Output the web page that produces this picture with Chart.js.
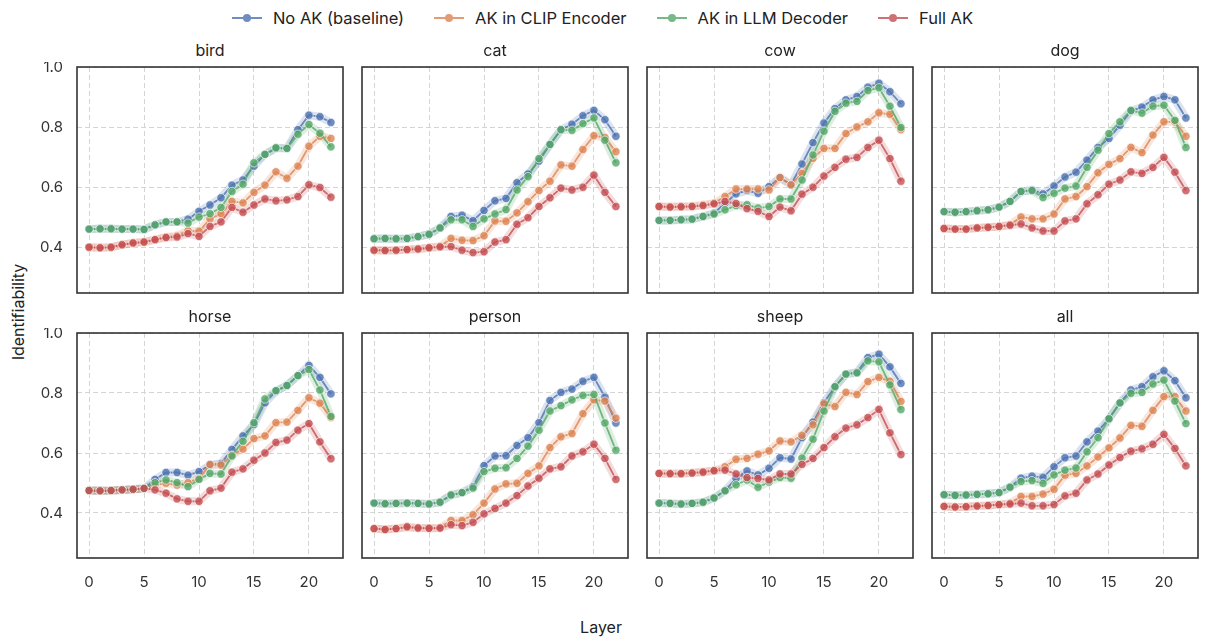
<!DOCTYPE html>
<html>
<head>
<meta charset="utf-8">
<script src="https://cdn.jsdelivr.net/npm/chart.js@4.4.1/dist/chart.umd.min.js"></script>
<style>
  body { margin: 0; background: #fff; font-family: Inter, "Open Sans", sans-serif; color: #222; }
  #wrap { position: relative; width: 1205px; height: 638px; overflow: hidden; }
  canvas { position: absolute; }
  .title { position: absolute; width: 266px; text-align: center; font-size: 16px; line-height: 20px; }
  #legend { position: absolute; top: 8px; left: 0; width: 1205px; display: flex; justify-content: center; gap: 30px; font-size: 16.5px; line-height: 20px; }
  .item { display: flex; align-items: center; gap: 11px; }
  .mk { position: relative; width: 30px; height: 2px; opacity: 0.8; }
  .mk span { position: absolute; left: 11px; top: -3px; width: 8px; height: 8px; border-radius: 50%; }
  #ylab { position: absolute; left: 18px; top: 312px; transform: translate(-50%, -50%) rotate(-90deg); font-size: 16px; white-space: nowrap; }
  #xlab { position: absolute; left: 601px; top: 627px; transform: translate(-50%, -50%); font-size: 16px; }
</style>
</head>
<body>
<div id="wrap">
  <div id="legend"></div>
  <div id="ylab">Identifiability</div>
  <div id="xlab">Layer</div>
</div>
<script>
const layers = [0, 1, 2, 3, 4, 5, 6, 7, 8, 9, 10, 11, 12, 13, 14, 15, 16, 17, 18, 19, 20, 21, 22];
const panels = ['bird', 'cat', 'cow', 'dog', 'horse', 'person', 'sheep', 'all'];
const seriesNames = ['No AK (baseline)', 'AK in CLIP Encoder', 'AK in LLM Decoder', 'Full AK'];
const seriesColors = ['#4C72B0', '#DD8452', '#55A868', '#C44E52'];
const xTicks = [0, 5, 10, 15, 20];
const yTicks = [0.4, 0.6, 0.8, 1.0];

const noAK_bird = [0.462,0.463,0.463,0.462,0.462,0.461,0.476,0.486,0.486,0.495,0.521,0.542,0.566,0.608,0.625,0.671,0.710,0.730,0.730,0.792,0.840,0.835,0.816];
const clip_bird = [0.402,0.400,0.402,0.410,0.416,0.419,0.427,0.436,0.440,0.457,0.455,0.496,0.513,0.554,0.549,0.584,0.608,0.652,0.631,0.671,0.737,0.770,0.763];
const llm_bird  = [0.462,0.463,0.463,0.462,0.462,0.461,0.476,0.486,0.486,0.482,0.502,0.513,0.534,0.587,0.611,0.682,0.710,0.732,0.730,0.777,0.809,0.780,0.735];
const full_bird = [0.402,0.400,0.402,0.410,0.416,0.419,0.427,0.434,0.436,0.447,0.438,0.471,0.486,0.534,0.518,0.542,0.562,0.556,0.559,0.570,0.609,0.600,0.568];

const noAK_cat = [0.430,0.431,0.430,0.431,0.437,0.445,0.466,0.504,0.508,0.490,0.524,0.556,0.564,0.616,0.645,0.688,0.743,0.792,0.810,0.838,0.856,0.825,0.770];
const clip_cat = [0.392,0.391,0.392,0.394,0.396,0.400,0.405,0.431,0.425,0.424,0.440,0.489,0.488,0.516,0.553,0.590,0.621,0.675,0.671,0.726,0.772,0.766,0.719];
const llm_cat  = [0.430,0.431,0.430,0.431,0.437,0.445,0.466,0.493,0.493,0.471,0.496,0.512,0.527,0.592,0.636,0.696,0.743,0.792,0.790,0.812,0.831,0.757,0.682];
const full_cat = [0.392,0.391,0.392,0.394,0.396,0.400,0.403,0.404,0.392,0.384,0.387,0.419,0.427,0.478,0.500,0.537,0.566,0.598,0.592,0.601,0.641,0.584,0.537];

const noAK_cow = [0.491,0.491,0.493,0.495,0.504,0.515,0.548,0.579,0.590,0.581,0.603,0.633,0.609,0.678,0.749,0.814,0.862,0.891,0.902,0.933,0.946,0.918,0.878];
const clip_cow = [0.537,0.537,0.537,0.539,0.543,0.548,0.570,0.595,0.595,0.595,0.592,0.633,0.609,0.647,0.697,0.730,0.730,0.779,0.801,0.818,0.848,0.843,0.792];
const llm_cow  = [0.491,0.491,0.493,0.495,0.504,0.512,0.526,0.540,0.543,0.532,0.537,0.562,0.562,0.625,0.708,0.787,0.853,0.880,0.886,0.922,0.931,0.870,0.799];
const full_cow = [0.537,0.535,0.536,0.537,0.540,0.546,0.554,0.547,0.530,0.521,0.504,0.535,0.523,0.578,0.601,0.638,0.667,0.694,0.700,0.733,0.757,0.696,0.621];

const noAK_dog = [0.520,0.518,0.520,0.523,0.526,0.535,0.554,0.587,0.592,0.579,0.605,0.635,0.651,0.691,0.733,0.763,0.807,0.854,0.867,0.891,0.902,0.891,0.831];
const clip_dog = [0.464,0.462,0.462,0.466,0.468,0.471,0.477,0.502,0.496,0.496,0.512,0.562,0.570,0.603,0.649,0.677,0.696,0.733,0.716,0.774,0.818,0.818,0.770];
const llm_dog  = [0.520,0.518,0.520,0.523,0.526,0.535,0.554,0.587,0.590,0.567,0.581,0.598,0.605,0.667,0.724,0.779,0.818,0.856,0.847,0.870,0.873,0.823,0.733];
const full_dog = [0.464,0.462,0.462,0.466,0.468,0.471,0.475,0.479,0.466,0.456,0.456,0.489,0.496,0.546,0.576,0.611,0.625,0.652,0.647,0.667,0.700,0.651,0.590];

const noAK_horse = [0.475,0.474,0.475,0.477,0.479,0.482,0.512,0.535,0.535,0.526,0.538,0.560,0.565,0.612,0.657,0.695,0.767,0.806,0.825,0.858,0.892,0.852,0.797];
const clip_horse = [0.475,0.474,0.475,0.477,0.479,0.482,0.494,0.499,0.493,0.501,0.515,0.562,0.560,0.593,0.613,0.648,0.657,0.701,0.703,0.742,0.784,0.766,0.718];
const llm_horse  = [0.475,0.474,0.475,0.477,0.479,0.482,0.501,0.510,0.501,0.488,0.512,0.532,0.530,0.590,0.639,0.701,0.780,0.808,0.825,0.858,0.878,0.810,0.722];
const full_horse = [0.475,0.474,0.475,0.477,0.479,0.482,0.477,0.466,0.447,0.439,0.439,0.474,0.483,0.536,0.547,0.576,0.600,0.635,0.643,0.676,0.698,0.637,0.581];

const noAK_person = [0.433,0.431,0.432,0.433,0.432,0.430,0.436,0.460,0.468,0.488,0.558,0.590,0.591,0.625,0.651,0.701,0.775,0.802,0.813,0.839,0.852,0.786,0.700];
const clip_person = [0.348,0.345,0.348,0.352,0.350,0.349,0.350,0.375,0.375,0.394,0.433,0.480,0.497,0.499,0.532,0.557,0.618,0.654,0.665,0.731,0.777,0.773,0.716];
const llm_person  = [0.433,0.431,0.432,0.433,0.432,0.430,0.436,0.460,0.468,0.483,0.538,0.549,0.551,0.582,0.623,0.676,0.740,0.758,0.777,0.792,0.795,0.700,0.609];
const full_person = [0.348,0.345,0.348,0.354,0.350,0.349,0.350,0.361,0.358,0.369,0.397,0.415,0.433,0.458,0.490,0.516,0.547,0.554,0.590,0.604,0.629,0.582,0.512];

const noAK_sheep = [0.433,0.432,0.430,0.432,0.436,0.450,0.474,0.516,0.540,0.527,0.549,0.584,0.580,0.651,0.703,0.768,0.821,0.863,0.869,0.918,0.929,0.887,0.832];
const clip_sheep = [0.532,0.532,0.532,0.534,0.538,0.541,0.554,0.579,0.582,0.596,0.607,0.640,0.637,0.659,0.694,0.764,0.755,0.802,0.795,0.838,0.852,0.839,0.772];
const llm_sheep  = [0.433,0.432,0.430,0.432,0.436,0.450,0.474,0.494,0.510,0.486,0.503,0.518,0.516,0.583,0.646,0.740,0.821,0.863,0.867,0.907,0.904,0.827,0.745];
const full_sheep = [0.532,0.531,0.531,0.533,0.536,0.541,0.543,0.530,0.518,0.515,0.510,0.530,0.530,0.562,0.582,0.618,0.654,0.683,0.694,0.718,0.745,0.667,0.595];

const noAK_all = [0.461,0.459,0.460,0.462,0.464,0.468,0.486,0.516,0.523,0.519,0.554,0.584,0.590,0.637,0.673,0.714,0.767,0.810,0.821,0.854,0.874,0.841,0.784];
const clip_all = [0.422,0.420,0.421,0.424,0.425,0.428,0.433,0.455,0.455,0.463,0.479,0.526,0.532,0.557,0.587,0.617,0.650,0.692,0.689,0.742,0.788,0.788,0.740];
const llm_all  = [0.461,0.459,0.460,0.462,0.464,0.468,0.486,0.505,0.508,0.499,0.527,0.543,0.550,0.604,0.651,0.714,0.767,0.799,0.802,0.830,0.843,0.773,0.698];
const full_all = [0.422,0.420,0.421,0.423,0.425,0.428,0.430,0.433,0.424,0.424,0.428,0.457,0.466,0.510,0.530,0.560,0.585,0.606,0.614,0.629,0.662,0.615,0.557];

const panelData = {
    bird: [noAK_bird, clip_bird, llm_bird, full_bird],
    cat: [noAK_cat, clip_cat, llm_cat, full_cat],
    cow: [noAK_cow, clip_cow, llm_cow, full_cow],
    dog: [noAK_dog, clip_dog, llm_dog, full_dog],
    horse: [noAK_horse, clip_horse, llm_horse, full_horse],
    person: [noAK_person, clip_person, llm_person, full_person],
    sheep: [noAK_sheep, clip_sheep, llm_sheep, full_sheep],
    all: [noAK_all, clip_all, llm_all, full_all]
};

function rgba(hex, a) {
    const n = parseInt(hex.slice(1), 16);
    return 'rgba(' + (n >> 16) + ',' + ((n >> 8) & 255) + ',' + (n & 255) + ',' + a + ')';
}

// legend
const legend = document.getElementById('legend');
seriesNames.forEach((name, i) => {
    const item = document.createElement('div');
    item.className = 'item';
    item.innerHTML = '<div class="mk" style="background:' + seriesColors[i] + '"><span style="background:' + seriesColors[i] + '"></span></div><div>' + name + '</div>';
    legend.appendChild(item);
});

// box around the plot area
const framePlugin = {
    id: 'frame',
    afterDraw(chart) {
        const a = chart.chartArea, ctx = chart.ctx;
        ctx.save();
        ctx.strokeStyle = '#333';
        ctx.lineWidth = 1.6;
        ctx.strokeRect(a.left, a.top, a.right - a.left, a.bottom - a.top);
        ctx.restore();
    }
};

const frameLeft = [77, 362, 647, 932];
const frameTop = [67, 333];
const frameH = [226, 225];
const frameW = 266;
const axisW = 50, axisH = 40, pad = 5;

const wrap = document.getElementById('wrap');

function noPad(s) {
    s.paddingTop = 0; s.paddingBottom = 0; s.paddingLeft = 0; s.paddingRight = 0;
}

panels.forEach((name, p) => {
    const row = Math.floor(p / 4), col = p % 4;
    const canvas = document.createElement('canvas');
    canvas.width = axisW + frameW + pad;
    canvas.height = pad + frameH[row] + axisH;
    canvas.style.left = (frameLeft[col] - axisW) + 'px';
    canvas.style.top = (frameTop[row] - pad) + 'px';
    wrap.appendChild(canvas);

    const title = document.createElement('div');
    title.className = 'title';
    title.textContent = name;
    title.style.left = frameLeft[col] + 'px';
    title.style.top = (frameTop[row] - 27) + 'px';
    wrap.appendChild(title);

    const datasets = [];
    panelData[name].forEach((vals, i) => {
        // light band behind each line
        datasets.push({
            data: layers.map((x, k) => ({ x: x, y: vals[k] })),
            borderColor: rgba(seriesColors[i], 0.2),
            borderWidth: 8,
            pointRadius: 0,
            fill: false,
            order: 20 - i
        });
        datasets.push({
            label: seriesNames[i],
            data: layers.map((x, k) => ({ x: x, y: vals[k] })),
            borderColor: rgba(seriesColors[i], 0.8),
            backgroundColor: rgba(seriesColors[i], 0.8),
            borderWidth: 1.8,
            pointRadius: 4.2,
            pointBorderColor: 'rgba(255,255,255,0.8)',
            pointBorderWidth: 0.8,
            fill: false,
            order: 10 - i
        });
    });

    new Chart(canvas, {
        type: 'line',
        data: { datasets: datasets },
        options: {
            responsive: false,
            animation: false,
            devicePixelRatio: 1,
            layout: { padding: { left: 0, top: pad, right: pad, bottom: 0 } },
            plugins: { legend: { display: false }, tooltip: { enabled: false } },
            scales: {
                x: {
                    type: 'linear',
                    min: -1.1,
                    max: 23.1,
                    afterBuildTicks: s => { s.ticks = xTicks.map(v => ({ value: v })); },
                    afterFit: s => { s.height = axisH; noPad(s); },
                    grid: { color: '#d4d4d4', lineWidth: 1, drawTicks: false },
                    border: { display: false, dash: [5, 3] },
                    ticks: { display: row === 1, padding: 15, color: '#333', font: { family: 'Inter', size: 15 }, maxRotation: 0 }
                },
                y: {
                    min: 0.25,
                    max: 1.0,
                    afterBuildTicks: s => { s.ticks = yTicks.map(v => ({ value: v })); },
                    afterFit: s => { s.width = axisW; noPad(s); },
                    grid: { color: '#d4d4d4', lineWidth: 1, drawTicks: false },
                    border: { display: false, dash: [5, 3] },
                    ticks: { display: col === 0, padding: 14, color: '#333', font: { family: 'Inter', size: 15 }, callback: v => v.toFixed(1) }
                }
            }
        },
        plugins: [framePlugin]
    });
});
</script>
</body>
</html>
